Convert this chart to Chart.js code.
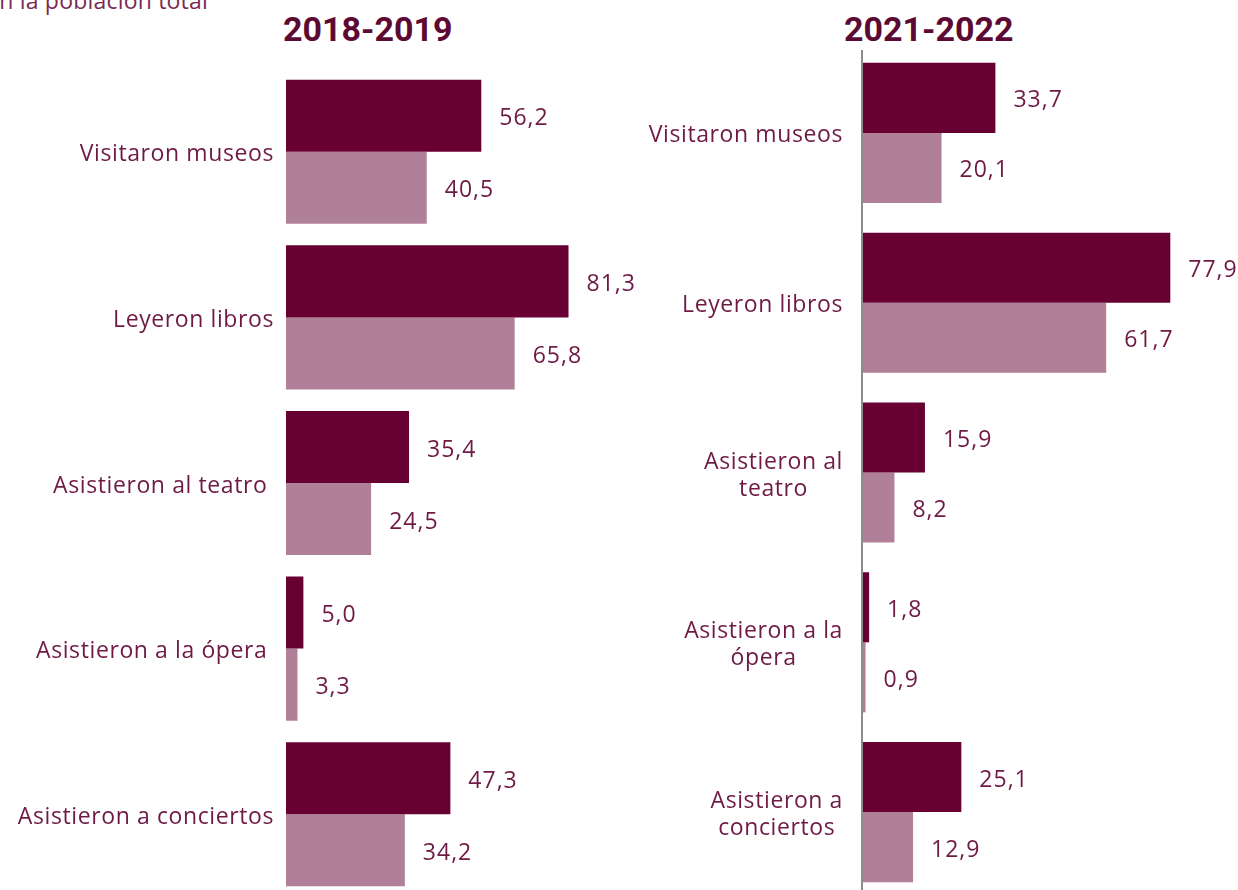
<!DOCTYPE html>
<html>
<head>
<meta charset="utf-8">
<script src="https://cdn.jsdelivr.net/npm/chart.js@4.4.0/dist/chart.umd.min.js"></script>
<style>
  html, body { margin: 0; padding: 0; background: #fff; overflow: hidden; width: 1238px; height: 890px; }
  .wrap { position: absolute; top: 0; }
  .title { position: absolute; font-family: Roboto, "Liberation Sans", sans-serif; font-weight: 700; font-size: 34px; color: #5c0a33; white-space: nowrap; }
  .note { position: absolute; font-family: "Open Sans", Lato, sans-serif; font-size: 23px; letter-spacing: 0.2px; color: #7a2a55; white-space: nowrap; }
</style>
</head>
<body>
<div class="note" style="right:1030px; top:-16px;">Porcentaje en la población total</div>
<div class="title" style="left:283px; top:9px;">2018-2019</div>
<div class="title" style="left:844px; top:9px;">2021-2022</div>
<div class="wrap" style="left:0;"><canvas id="chartLeft" width="640" height="900"></canvas></div>
<div class="wrap" style="left:620px;"><canvas id="chartRight" width="618" height="900"></canvas></div>
<script>
// categories
const leftLabels = ['Visitaron museos', 'Leyeron libros', 'Asistieron al teatro ', 'Asistieron a la ópera ', 'Asistieron a conciertos'];
const rightLabels = ['Visitaron museos', 'Leyeron libros', ['Asistieron al', 'teatro'], ['Asistieron a la', 'ópera'], ['Asistieron a', 'conciertos']];

// 2018-2019
const left2018Dark = [56.2, 81.3, 35.4, 5.0, 47.3];
const left2018Light = [40.5, 65.8, 24.5, 3.3, 34.2];
// 2021-2022
const right2021Dark = [33.7, 77.9, 15.9, 1.8, 25.1];
const right2021Light = [20.1, 61.7, 8.2, 0.9, 12.9];

const darkColor = '#680032';
const lightColor = '#b08098';
const textColor = '#6e1a45';

function fmt(v){
    return v.toFixed(1).replace('.', ',');
}

// writes the value labels, the category labels and the axis line
const panelText = {
    id: 'panelText',
    afterDatasetsDraw(chart, args, opts){
        const ctx = chart.ctx;
        const area = chart.chartArea;
        const yScale = chart.scales.y;
        ctx.save();
        ctx.fillStyle = textColor;
        ctx.textBaseline = 'middle';

        ctx.font = '23px "Open Sans"';
        ctx.letterSpacing = '1px';
        chart.data.datasets.forEach(function(ds, i){
            chart.getDatasetMeta(i).data.forEach(function(bar, j){
                ctx.textAlign = 'left';
                ctx.fillText(fmt(ds.data[j]), bar.x + 18, bar.y + 3);
            });
        });

        ctx.font = '23px "Open Sans"';
        ctx.letterSpacing = '0.6px';
        chart.data.labels.forEach(function(lab, j){
            var lines = Array.isArray(lab) ? lab : [lab];
            var widest = 0;
            lines.forEach(function(l){ widest = Math.max(widest, ctx.measureText(l).width); });
            var cx = area.left - opts.gap - widest / 2;
            var cy = yScale.getPixelForValue(j) + 3;
            ctx.textAlign = 'center';
            lines.forEach(function(l, k){
                ctx.fillText(l, cx, cy + (k - (lines.length - 1) / 2) * 27);
            });
        });

        if(opts.axisLine){
            var x0 = chart.scales.x.getPixelForValue(0);
            ctx.strokeStyle = '#8c8c8c';
            ctx.lineWidth = 2;
            ctx.beginPath();
            ctx.moveTo(x0, area.top + 2);
            ctx.lineTo(x0, chart.height);
            ctx.stroke();
        }
        ctx.restore();
    }
};

function makePanel(id, labels, dark, light, opt){
    let ctx = document.getElementById(id).getContext('2d');
    return new Chart(ctx, {
        type: 'bar',
        data: {
            labels: labels,
            datasets: [
                { label: 'a', data: dark, backgroundColor: darkColor, borderWidth: 0 },
                { label: 'b', data: light, backgroundColor: lightColor, borderWidth: 0 }
            ]
        },
        plugins: [panelText],
        options: {
            indexAxis: 'y',
            responsive: false,
            animation: false,
            categoryPercentage: opt.catPct,
            barPercentage: 1,
            layout: {
                padding: { left: opt.padLeft, top: opt.padTop, bottom: 3, right: opt.padRight }
            },
            scales: {
                x: { display: false, min: 0, max: opt.max },
                y: { display: false }
            },
            plugins: {
                legend: { display: false },
                tooltip: { enabled: false },
                panelText: { gap: opt.gap, axisLine: opt.axisLine }
            }
        }
    });
}

makePanel('chartLeft', leftLabels, left2018Dark, left2018Light,
    { padLeft: 286, padTop: 69, padRight: 6.5, max: 100, catPct: 0.87, gap: 12, axisLine: false });
makePanel('chartRight', rightLabels, right2021Dark, right2021Light,
    { padLeft: 242, padTop: 48, padRight: 0, max: 95, catPct: 0.825, gap: 19, axisLine: true });
</script>
</body>
</html>
